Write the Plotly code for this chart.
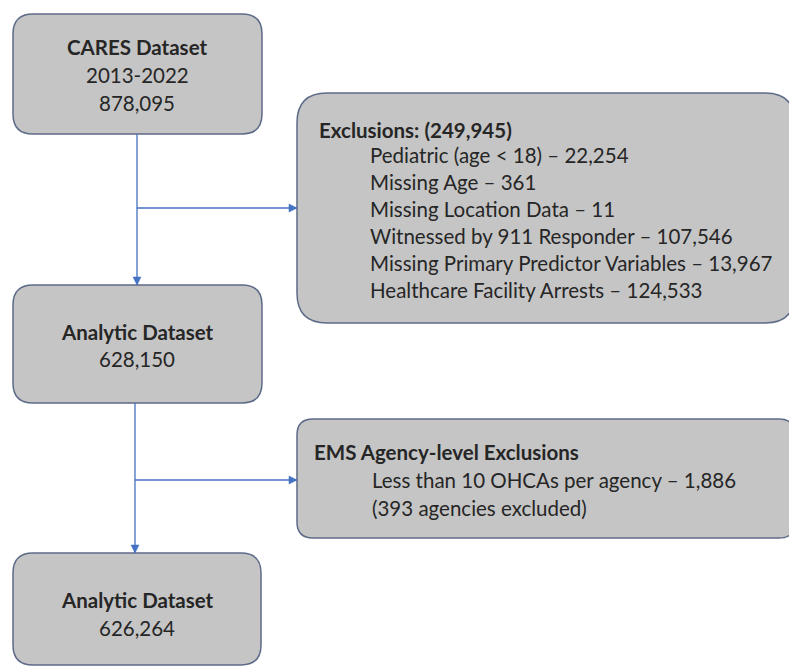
import plotly.graph_objects as go

W, H = 797, 667
OFF = 8  # default page margin around the plot div

# ---- content ----
box_titles = ["CARES Dataset", "Exclusions: (249,945)", "Analytic Dataset",
              "EMS Agency-level Exclusions", "Analytic Dataset"]
cares_lines = ["2013-2022", "878,095"]
exclusion_items = [
    "Pediatric (age < 18) – 22,254",
    "Missing Age – 361",
    "Missing Location Data – 11",
    "Witnessed by 911 Responder – 107,546",
    "Missing Primary Predictor Variables – 13,967",
    "Healthcare Facility Arrests – 124,533",
]
analytic1_lines = ["628,150"]
ems_items = ["Less than 10 OHCAs per agency – 1,886", "(393 agencies excluded)"]
analytic2_lines = ["626,264"]

FILL = "#c5c5c5"
BORDER = "#5d6a88"
LINE = "#4472c4"
FONT = "Lato"
TXT = "#262626"
FS = 20.5

fig = go.Figure()
shapes = []
annotations = []


def rbox(x0, y0, x1, y1, r):
    path = (f"M {x0+r},{y0} L {x1-r},{y0} Q {x1},{y0} {x1},{y0+r} "
            f"L {x1},{y1-r} Q {x1},{y1} {x1-r},{y1} L {x0+r},{y1} "
            f"Q {x0},{y1} {x0},{y1-r} L {x0},{y0+r} Q {x0},{y0} {x0+r},{y0} Z")
    shapes.append(dict(type="path", path=path, xref="x", yref="y",
                       fillcolor=FILL, line=dict(color=BORDER, width=1.5), layer="below"))


def text(x, y, s, bold=False, anchor="center", size=FS):
    annotations.append(dict(x=x, y=y, xref="x", yref="y", text=(f"<b>{s}</b>" if bold else s),
                            showarrow=False, xanchor=anchor, yanchor="middle",
                            font=dict(family=FONT, size=size, color=TXT)))


def line(x0, y0, x1, y1):
    shapes.append(dict(type="line", x0=x0, y0=y0, x1=x1, y1=y1, xref="x", yref="y",
                       line=dict(color=LINE, width=1.3)))


def arrowhead(x, y, direction):
    s = 5
    if direction == "down":
        path = f"M {x},{y} L {x-s*0.8},{y-s*1.6} L {x+s*0.8},{y-s*1.6} Z"
    else:
        path = f"M {x},{y} L {x-s*1.6},{y-s*0.8} L {x-s*1.6},{y+s*0.8} Z"
    shapes.append(dict(type="path", path=path, xref="x", yref="y",
                       fillcolor=LINE, line=dict(color=LINE, width=0.5)))


# boxes
rbox(13, 14, 262, 134, 20)
rbox(297, 93, 795, 323, 30)
rbox(13, 285, 262, 403, 20)
rbox(297, 419, 795, 538, 16)
rbox(13, 553, 261, 665, 20)

# connectors
cx = 137
line(cx, 134, cx, 285)
arrowhead(cx, 285, "down")
line(cx, 208, 297, 208)
arrowhead(297, 208, "right")
line(cx - 2, 403, cx - 2, 553)
arrowhead(cx - 2, 553, "down")
line(cx - 2, 480, 297, 480)
arrowhead(297, 480, "right")

# box 1
text(cx, 47, box_titles[0], bold=True)
for i, s in enumerate(cares_lines):
    text(cx, 75 + 28 * i, s)

# box 2
text(317, 130, box_titles[1], bold=True, anchor="left")
for i, s in enumerate(exclusion_items):
    text(368, 155 + 27 * i, s, anchor="left")

# box 3
text(cx, 332, box_titles[2], bold=True)
for i, s in enumerate(analytic1_lines):
    text(cx, 359 + 27 * i, s)

# box 4
text(312, 452, box_titles[3], bold=True, anchor="left")
for i, s in enumerate(ems_items):
    text(370, 480 + 28 * i, s, anchor="left")

# box 5
text(cx, 600, box_titles[4], bold=True)
for i, s in enumerate(analytic2_lines):
    text(cx, 628 + 27 * i, s)

fig.update_layout(
    width=W - OFF, height=H - OFF,
    margin=dict(l=0, r=0, t=0, b=0),
    paper_bgcolor="white", plot_bgcolor="white",
    xaxis=dict(range=[OFF, W], visible=False, fixedrange=True),
    yaxis=dict(range=[H, OFF], visible=False, fixedrange=True),
    shapes=shapes, annotations=annotations, showlegend=False,
)
fig.write_html("out.html")
